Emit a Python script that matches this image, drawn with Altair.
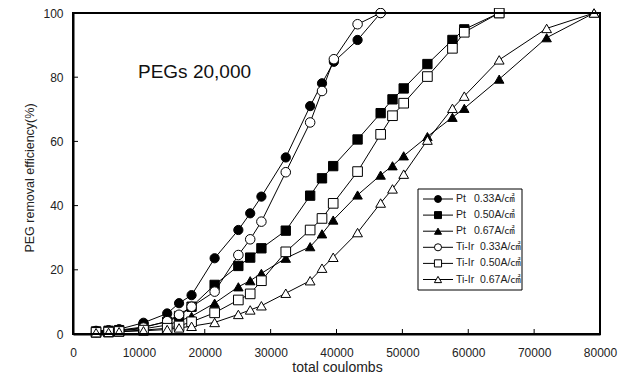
import altair as alt
import pandas as pd

# ---------------- data ----------------
series_names = ["Pt 0.33", "Pt 0.50", "Pt 0.67", "Ti-Ir 0.33", "Ti-Ir 0.50", "Ti-Ir 0.67"]

x_033 = [3500, 5400, 7000, 10700, 14300, 16100, 18000, 21500, 25100, 26900, 28600,
         32300, 36000, 37800, 39600, 43200, 46700]
y_pt_033 = [1.0, 1.2, 1.5, 3.5, 6.4, 9.6, 12.1, 23.6, 32.4, 37.6, 42.8,
            55.0, 71.0, 78.1, 84.8, 91.6, 100]
y_ti_033 = [0.6, 0.8, 1.0, 2.0, 4.0, 6.0, 8.5, 13.2, 24.6, 29.5, 35.0,
            50.4, 65.9, 75.7, 85.6, 96.5, 100]

x_050 = [3500, 5400, 7000, 10700, 14300, 16100, 18000, 21500, 25100, 26900, 28600,
         32300, 36000, 37800, 39500, 43200, 46700, 48500, 50200, 53800, 57600, 59400, 64700]
y_pt_050 = [0.8, 1.0, 1.2, 2.2, 3.8, 5.6, 8.5, 15.3, 21.2, 23.8, 26.7,
            32.2, 43.1, 48.5, 52.3, 60.6, 68.8, 73.1, 76.5, 84.1, 91.6, 94.9, 100]
y_ti_050 = [0.5, 0.6, 0.8, 1.2, 1.8, 2.5, 3.8, 6.6, 10.6, 12.5, 16.6,
            25.6, 32.4, 36.0, 40.7, 50.6, 62.2, 68.0, 71.9, 80.2, 89.0, 94.0, 100]

x_067 = [3500, 5400, 7000, 10700, 14300, 16100, 18000, 21500, 25100, 26900, 28600,
         32300, 36000, 37800, 39500, 43200, 46700, 48500, 50200, 53800, 57600, 59400,
         64700, 71900, 79100]
y_pt_067 = [0.7, 0.9, 1.1, 1.6, 2.8, 4.0, 5.5, 9.6, 14.7, 16.6, 18.9,
            23.6, 27.2, 31.2, 35.5, 43.3, 49.5, 52.4, 55.5, 61.5, 67.5, 70.3,
            79.4, 92.3, 100]
y_ti_067 = [0.4, 0.5, 0.7, 1.0, 1.4, 1.9, 2.4, 3.6, 6.1, 7.5, 8.8,
            12.7, 16.6, 20.5, 23.9, 31.6, 40.8, 45.2, 49.8, 60.4, 70.3, 74.1,
            85.4, 95.2, 100]

legend_names = ["Pt", "Pt", "Pt", "Ti-Ir", "Ti-Ir", "Ti-Ir"]
legend_values = ["0.33A/\u33a0", "0.50A/\u33a0", "0.67A/\u33a0",
                 "0.33A/\u33a0", "0.50A/\u33a0", "0.67A/\u33a0"]

x_range = [0, 80000]
y_range = [0, 100]
x_ticks = [10000, 20000, 30000, 40000, 50000, 60000, 70000]
y_ticks = [20, 40, 60, 80]

# ---------------- build tables ----------------
pairs = [(x_033, y_pt_033), (x_050, y_pt_050), (x_067, y_pt_067),
         (x_033, y_ti_033), (x_050, y_ti_050), (x_067, y_ti_067)]
rows = []
for name, (xs, ys) in zip(series_names, pairs):
    for i, (xv, yv) in enumerate(zip(xs, ys)):
        rows.append({"series": name, "x": xv, "y": yv, "i": i})
df = pd.DataFrame(rows)

leg = pd.DataFrame({"series": series_names, "name": legend_names, "value": legend_values,
                    "k": list(range(len(series_names)))})

W, H = 527, 321
FONT = "Liberation Sans, Noto Sans CJK KR"
TXT = "#222"

# frame as a closed polyline through the domain corners
x0, x1 = x_range
y0, y1 = y_range
frame_df = pd.DataFrame({"x": [x0, x1, x1, x0, x0], "y": [y0, y0, y1, y1, y0],
                         "i": [0, 1, 2, 3, 4], "g": ["f"] * 5})

# inward tick segments (tick length ~5 px expressed through the scales)
tick_len_y = 5 / H * (y1 - y0)
tick_len_x = 5 / W * (x1 - x0)
trows = []
for t in x_ticks:
    trows.append({"x": t, "y": y0, "i": 0, "g": f"x{t}"})
    trows.append({"x": t, "y": y0 + tick_len_y, "i": 1, "g": f"x{t}"})
for t in y_ticks:
    trows.append({"x": x0, "y": t, "i": 0, "g": f"y{t}"})
    trows.append({"x": x0 + tick_len_x, "y": t, "i": 1, "g": f"y{t}"})
tick_df = pd.DataFrame(trows)

shape_scale = alt.Scale(domain=series_names,
                        range=["circle", "square", "triangle-up", "circle", "square", "triangle-up"])
fill_scale = alt.Scale(domain=series_names,
                       range=["black", "black", "black", "white", "white", "white"])
size_scale = alt.Scale(domain=series_names, range=[85, 95, 85, 85, 95, 85])
leg_size_scale = alt.Scale(domain=series_names, range=[48, 52, 48, 48, 52, 48])

xs = alt.X("x:Q", scale=alt.Scale(domain=x_range, nice=False),
           axis=alt.Axis(values=[0] + x_ticks + [80000], format="d", ticks=False,
                         domain=True, domainColor="black", domainWidth=2,
                         grid=False, labelFont=FONT, labelFontSize=12, labelColor=TXT,
                         labelPadding=13, labelFlush=False, title=None))
ys = alt.Y("y:Q", scale=alt.Scale(domain=y_range, nice=False),
           axis=alt.Axis(values=[0] + y_ticks + [100], ticks=False,
                         domain=True, domainColor="black", domainWidth=2, grid=False,
                         labelFont=FONT, labelFontSize=12, labelColor=TXT, labelPadding=10,
                         labelFlush=False, title=None))

lines = alt.Chart(df).mark_line(color="black", strokeWidth=1).encode(
    x=xs, y=ys, detail="series:N", order="i:Q")

points = alt.Chart(df).mark_point(filled=True, stroke="black", strokeWidth=1, opacity=1).encode(
    x="x:Q", y="y:Q",
    shape=alt.Shape("series:N", scale=shape_scale, legend=None),
    fill=alt.Fill("series:N", scale=fill_scale, legend=None),
    size=alt.Size("series:N", scale=size_scale, legend=None))

frame = alt.Chart(frame_df).mark_line(color="black", strokeWidth=2, opacity=1).encode(
    x="x:Q", y="y:Q", detail="g:N", order="i:Q")

ticks = alt.Chart(tick_df).mark_line(color="black", strokeWidth=1, opacity=1).encode(
    x="x:Q", y="y:Q", detail="g:N", order="i:Q")

texts = pd.DataFrame({"s": ["PEGs 20,000"]})
title_text = alt.Chart(texts).mark_text(
    align="left", baseline="middle", font=FONT, fontSize=19,
    color="#111").encode(text="s:N", x=alt.value(65), y=alt.value(59))

xtitle = alt.Chart(pd.DataFrame({"s": ["total coulombs"]})).mark_text(
    align="center", baseline="alphabetic", font=FONT, fontSize=14,
    color=TXT).encode(text="s:N", x=alt.value(W / 2 + 1), y=alt.value(359))
ytitle = alt.Chart(pd.DataFrame({"s": ["PEG removal efficiency(%)"]})).mark_text(
    align="center", baseline="middle", font=FONT, fontSize=12.5, angle=270,
    color=TXT).encode(text="s:N", x=alt.value(-43), y=alt.value(165))

# legend
LX0, LX1, LY0, LY1 = 345, 449, 176, 277
box = alt.Chart(pd.DataFrame({"a": [0]})).mark_rect(
    fill="white", stroke="black", strokeWidth=1).encode(
    x=alt.value(LX0), x2=alt.value(LX1), y=alt.value(LY0), y2=alt.value(LY1))

leg_base = alt.Chart(leg).transform_calculate(
    ly="186 + datum.k * 16.1",
    vx="datum.name == 'Pt' ? 401 : 407")
leg_lines = leg_base.mark_rule(color="black", strokeWidth=1).encode(
    y=alt.Y("ly:Q", scale=None), x=alt.value(350), x2=alt.value(380))
leg_pts = leg_base.mark_point(filled=True, stroke="black", strokeWidth=1, opacity=1).encode(
    y=alt.Y("ly:Q", scale=None), x=alt.value(365),
    shape=alt.Shape("series:N", scale=shape_scale, legend=None),
    fill=alt.Fill("series:N", scale=fill_scale, legend=None),
    size=alt.Size("series:N", scale=leg_size_scale, legend=None))
leg_name = leg_base.mark_text(align="left", baseline="middle", font=FONT, fontSize=10.5,
                              color=TXT).encode(
    y=alt.Y("ly:Q", scale=None), x=alt.value(383), text="name:N")
leg_val = leg_base.mark_text(align="left", baseline="middle", font=FONT, fontSize=10.5,
                             color=TXT).encode(
    y=alt.Y("ly:Q", scale=None), x=alt.X("vx:Q", scale=None), text="value:N")

chart = alt.layer(
    lines, points, title_text, xtitle, ytitle,
    box, leg_lines, leg_pts, leg_name, leg_val,
    ticks, frame
).resolve_scale(size="independent").properties(
    width=W, height=H,
    background="white",
    autosize=alt.AutoSizeParams(type="none"),
    padding={"left": 65, "top": 5, "right": 25, "bottom": 42},
).configure_view(stroke="black", strokeWidth=2)

chart.save("out.html", embed_options={"renderer": "svg", "actions": False})
